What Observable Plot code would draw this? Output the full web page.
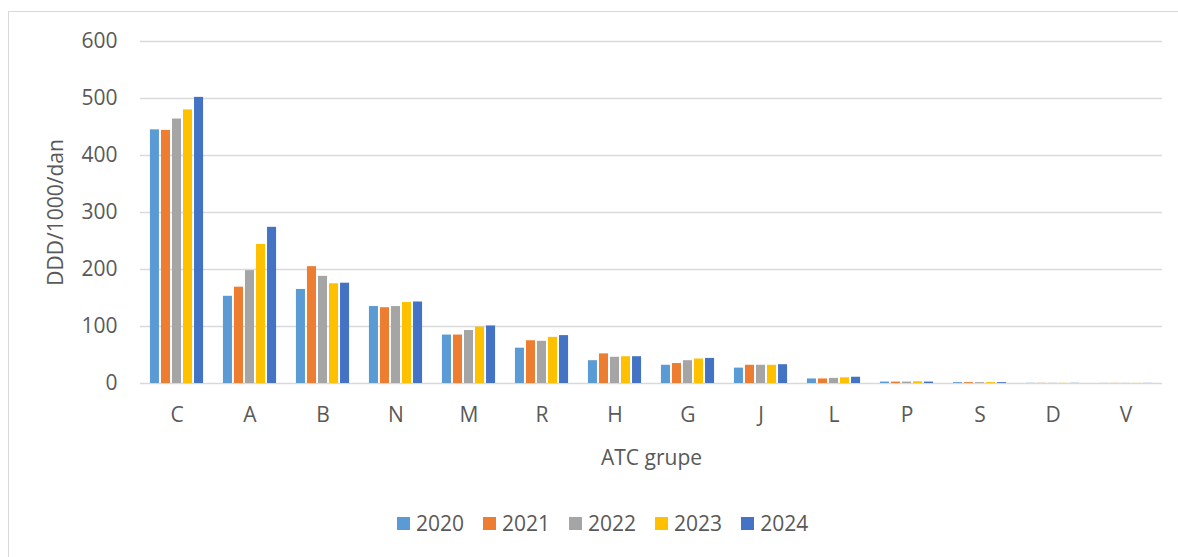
<!DOCTYPE html>
<html>
<head>
<meta charset="utf-8">
<script src="https://cdn.jsdelivr.net/npm/d3@7"></script>
<script src="https://cdn.jsdelivr.net/npm/@observablehq/plot@0.6"></script>
<style>
  html, body { margin: 0; padding: 0; background: #fff; overflow: hidden; }
  body { width: 1178px; height: 557px; position: relative; font-family: "Open Sans", sans-serif; }
  #frame { position: absolute; left: 8px; top: 11px; width: 1240px; height: 620px; border: 1px solid #d9d9d9; }
  #chart { position: absolute; left: 0; top: 0; }
  #legend { position: absolute; left: 397px; top: 509px; display: flex; align-items: center; font-size: 21px; color: #595959; }
  #legend .item { display: flex; align-items: center; margin-right: 19px; }
  #legend .sw { width: 13px; height: 13px; margin-right: 6px; }
</style>
</head>
<body>
<div id="frame"></div>
<div id="chart"></div>
<div id="legend"></div>
<script>
const categories = ["C", "A", "B", "N", "M", "R", "H", "G", "J", "L", "P", "S", "D", "V"];
const years = ["2020", "2021", "2022", "2023", "2024"];
const colors = ["#5B9BD5", "#ED7D31", "#A5A5A5", "#FFC000", "#4472C4"];
const v2020 = [445, 153, 165, 135, 85, 62, 40, 32, 27, 8, 2.5, 1.5, 0.3, 0.2];
const v2021 = [444, 169, 205, 133, 85, 75, 52, 35, 32, 8, 2.5, 1.5, 0.3, 0.2];
const v2022 = [464, 198, 188, 135, 93, 74, 46, 40, 32, 9, 2.5, 1.5, 0.3, 0.2];
const v2023 = [480, 244, 175, 142, 99, 81, 47, 43, 32, 10, 3, 1.5, 0.3, 0.2];
const v2024 = [502, 274, 176, 143, 101, 84, 47, 44, 33, 11, 2.5, 1.5, 0.3, 0.2];
const yTicks = [0, 100, 200, 300, 400, 500, 600];

const series = [v2020, v2021, v2022, v2023, v2024];
const data = [];
categories.forEach((c, i) => {
  years.forEach((y, j) => data.push({category: c, year: y, value: series[j][i]}));
});

const chart = Plot.plot({
  width: 1178,
  height: 480,
  marginTop: 41,
  marginBottom: 97,
  marginLeft: 140,
  marginRight: 16,
  style: {fontFamily: "'Open Sans', sans-serif", fontSize: "21px", color: "#595959", background: "transparent"},
  fx: {domain: categories, paddingInner: 0, paddingOuter: 0, round: false},
  x: {domain: years, paddingInner: 0.18, paddingOuter: 0.9, round: false, axis: null},
  y: {domain: [0, 600]},
  color: {domain: years, range: colors},
  marks: [
    Plot.gridY(yTicks, {stroke: "#d9d9d9", strokeOpacity: 1, strokeWidth: 1.3}),
    Plot.barY(data, {fx: "category", x: "year", y: "value", fill: "year"}),
    Plot.axisY(yTicks, {tickSize: 0, tickPadding: 23, fontSize: 21, label: "DDD/1000/dan", labelAnchor: "center", labelOffset: 92, labelArrow: "none"}),
    Plot.axisFx({anchor: "bottom", tickSize: 0, tickPadding: 24, fontSize: 21, label: "ATC grupe", labelAnchor: "center", labelOffset: 81, labelArrow: "none"})
  ]
});
document.getElementById("chart").appendChild(chart);

const legend = document.getElementById("legend");
years.forEach((y, j) => {
  const item = document.createElement("div");
  item.className = "item";
  const sw = document.createElement("span");
  sw.className = "sw";
  sw.style.background = colors[j];
  const t = document.createElement("span");
  t.textContent = y;
  item.appendChild(sw);
  item.appendChild(t);
  legend.appendChild(item);
});
</script>
</body>
</html>
